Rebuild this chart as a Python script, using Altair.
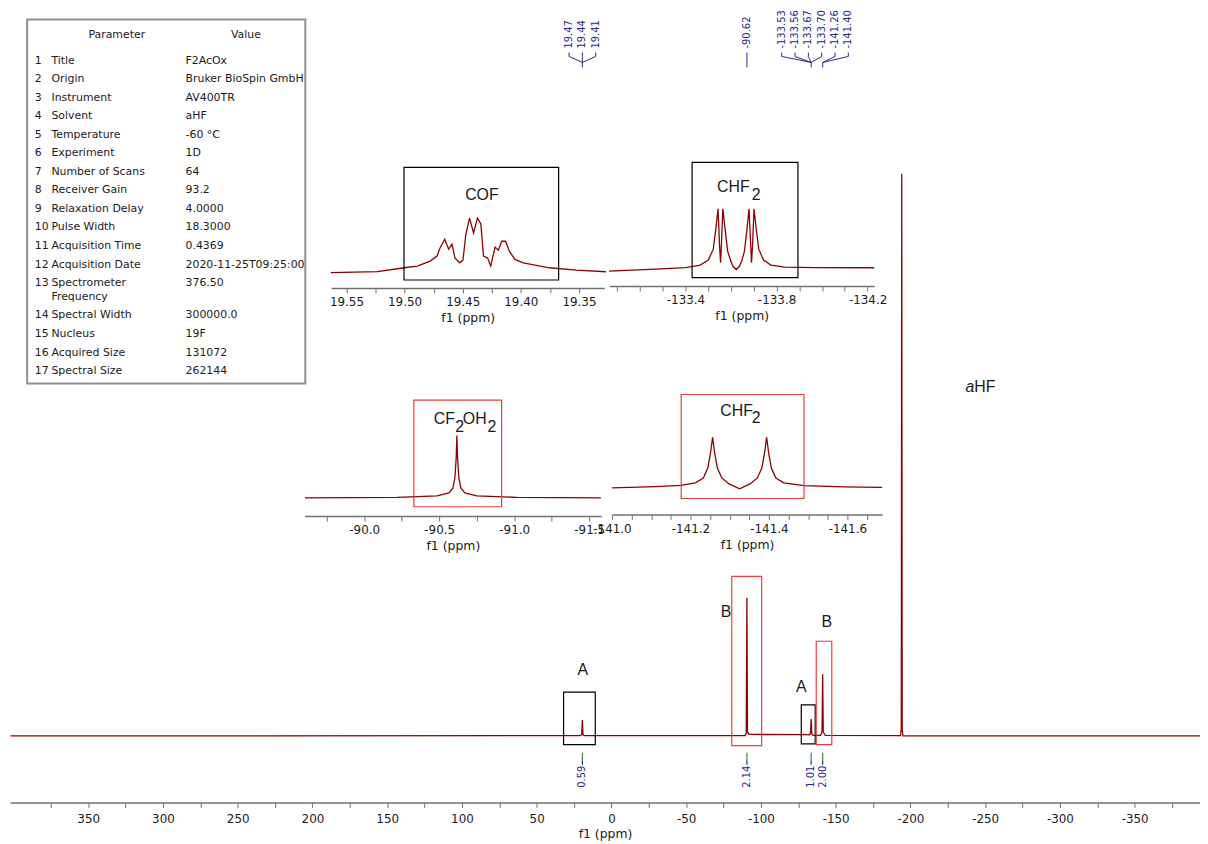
import altair as alt
import pandas as pd

# ---------------- layout helpers ----------------
W, H = 1200, 836          # plot area (page offset 8px)
OX = OY = 8

def px(v):
    return v - OX

def py(v):
    return v - OY

def xsc(dom, p0, p1):
    return alt.Scale(domain=dom, range=[px(p0), px(p1)], nice=False, zero=False)

def ysc(base, top_val=100.0):
    # intensity units are read as pixel heights above each baseline
    return alt.Scale(domain=[0, top_val], range=[py(base), py(base) - top_val], nice=False, zero=False)

SPEC = "#8b0000"
BLUE = "#262690"
GREEN = "#2a8a2a"
RED = "#f03a3a"
AXC = "#707070"
TXT = "#1a1a1a"
SANS = "Liberation Sans"
VERD = "DejaVu Sans"

# ---------------- data ----------------
# main 19F spectrum (ppm, intensity)
main_ppm = [402, 21.0, 19.9, 19.44, 19.0, 17.9, -89.4, -90.2, -90.62, -91.0, -92.0, -130.0, -132.4,
            -133.2, -133.6, -134.0, -135.0, -140.0, -140.9, -141.3, -141.7, -143.0, -193.4, -193.9,
            -194.2, -194.5, -195.0, -394]
main_int = [0, 0.3, 1, 16, 1, 0.3, 0.3, 3, 139, 4, 1.5, 1.2, 1,
            3, 17, 2, 0.5, 0.5, 5, 62, 4, 0.5, 0.3, 8,
            566, 6, 0, 0]

# main boxes
box_ppm1 = [32.0, -80.5, -127.0, -137.0]
box_ppm2 = [10.8, -100.5, -136.3, -147.4]
box_h1 = [44, 160.7, 31.3, 95.3]
box_h2 = [-8.7, -9.7, -8, -8.7]
box_col = ["#000000", RED, "#000000", RED]
box_lab = ["A", "B", "A", "B"]
box_lab_ppm = [19.1, -76.7, -127.0, -144.1]
box_lab_h = [66.3, 124.7, 49.7, 114.7]

# peak picking labels
peak_labels = ["19.47", "19.44", "19.41", "-90.62", "-133.53", "-133.56", "-133.67", "-133.70", "-141.26", "-141.40"]
peak_group = [0, 0, 0, 1, 2, 2, 2, 2, 2, 2]
peak_target = [19.44, 19.44, 19.44, -90.62, -133.6, -133.6, -133.6, -133.6, -141.3, -141.3]

# integrals
integ_text = ["0.59", "2.14", "1.01", "2.00"]
integ_ppm = [19.44, -90.62, -133.6, -141.3]

# inset COF
cof_ppm = [19.5635, 19.5233, 19.5003, 19.4891, 19.4780, 19.4721, 19.4695, 19.4655, 19.4621, 19.4592,
           19.4567, 19.4526, 19.4498, 19.4473, 19.4441, 19.4407, 19.4373, 19.4344, 19.4321, 19.4287,
           19.4259, 19.4222, 19.4193, 19.4165, 19.4131, 19.4099, 19.4051, 19.3979, 19.3755, 19.3524, 19.3268]
cof_int = [-1.5, -0.5, 3.3, 5, 10, 15, 23.3, 32, 22, 27,
           13.3, 8.3, 11, 37, 53.3, 38.3, 53.3, 47.3, 15, 13.3,
           5, 24, 21, 30, 30, 20, 11.7, 8.3, 3.3, 1, -0.7]

# inset CHF2 (-133 ppm)
chfa_ppm = [-133.064, -133.269, -133.400, -133.465, -133.500, -133.522, -133.533, -133.543, -133.549, -133.554,
            -133.558, -133.564, -133.574, -133.585, -133.599, -133.609, -133.623, -133.636, -133.647, -133.659,
            -133.670, -133.679, -133.686, -133.690, -133.695, -133.701, -133.711, -133.722, -133.743, -133.775,
            -133.836, -133.967, -134.229]
chfa_int = [0, 2, 3.5, 6, 11, 22, 42, 62.7, 28, 8.3,
            28, 62.7, 42, 20, 10, 4.5, 1.5, 4.5, 10, 20,
            42, 62.7, 28, 8.3, 28, 62.7, 42, 22, 11, 6,
            4, 3.5, 3.3]

# inset CF2OH2 (-90.62 ppm)
cfo_ppm = [-89.6046, -90.2205, -90.4854, -90.5649, -90.5914, -90.6046, -90.6132, -90.6179, -90.6225,
           -90.6311, -90.6444, -90.6709, -90.7503, -91.0152, -91.5781]
cfo_int = [0, 0.5, 2, 5, 10, 20, 40, 62.6, 40, 20, 10, 5, 2, 0.5, 0]

# inset CHF2 (-141 ppm)
chfb_ppm = [-141.000, -141.111, -141.175, -141.2127, -141.2329, -141.2443, -141.2511, -141.2565, -141.2618,
            -141.2686, -141.2800, -141.2987, -141.3253, -141.3519, -141.3706, -141.3820, -141.3889, -141.3942,
            -141.3995, -141.4063, -141.4177, -141.4380, -141.4886, -141.5924, -141.6886]
chfb_int = [0, 1.3, 2.5, 5, 10, 20, 35, 51, 35,
            20, 10, 4, -1, 4, 10, 20, 35, 51,
            35, 20, 10, 5, 2.3, 1, 0.5]

# parameter table
params = ["Title", "Origin", "Instrument", "Solvent", "Temperature", "Experiment", "Number of Scans",
          "Receiver Gain", "Relaxation Delay", "Pulse Width", "Acquisition Time", "Acquisition Date",
          "Spectrometer\nFrequency", "Spectral Width", "Nucleus", "Acquired Size", "Spectral Size"]
values = ["F2AcOx", "Bruker BioSpin GmbH", "AV400TR", "aHF", "-60 °C", "1D", "64", "93.2", "4.0000",
          "18.3000", "0.4369", "2020-11-25T09:25:00", "376.50", "300000.0", "19F", "131072", "262144"]

# ---------------- scales ----------------
MAIN_X = xsc([402.3, -393.7], 10, 1208)
MAIN_Y = ysc(738, 566)

COF_X = xsc([19.5632, 19.3282], 333.3, 608.3)
COF_Y = ysc(270)
CHFA_X = xsc([-133.065, -134.229], 613.3, 880)
CHFA_Y = ysc(270)
CFO_X = xsc([-89.6033, -91.5788], 306.7, 605)
CFO_Y = ysc(498.3)
CHFB_X = xsc([-141.0, -141.6886], 616, 888)
CHFB_Y = ysc(488.3)


def mk_axis(vals, anchor, step, dec, axis_y, labpad=4, titlepad=4):
    expr = (f"abs((datum.value-({anchor}))/{step} - round((datum.value-({anchor}))/{step})) < 0.01 ? "
            f"(datum.value < 0 ? '-' : '') + format(abs(datum.value), '.{dec}f') : ''")
    return alt.Axis(orient="bottom", offset=axis_y - (OY + H), values=vals, labelExpr=expr,
                    domainColor=AXC, domainWidth=1.5, tickColor=AXC, tickWidth=1, tickSize=5,
                    labelFont=VERD, labelFontSize=12, labelColor=TXT, labelPadding=labpad,
                    labelOverlap=False, labelFlush=False, grid=False,
                    title="f1 (ppm)", titleFont=VERD, titleFontSize=12.5, titleFontWeight="normal",
                    titleColor=TXT, titlePadding=titlepad)


main_ticks = [375 - 25 * i for i in range(31)]
cof_ticks = [round(19.55 - 0.025 * i, 3) for i in range(9)]
chfa_ticks = [round(-133.1 - 0.1 * i, 2) for i in range(12)]
cfo_ticks = [round(-89.75 - 0.25 * i, 2) for i in range(8)]
chfb_ticks = [round(-141.0 - 0.05 * i, 2) for i in range(14)]

layers = []

# ---------------- main spectrum ----------------
main_df = pd.DataFrame({"ppm": main_ppm, "h": main_int})
layers.append(alt.Chart(main_df).mark_line(color=SPEC, strokeWidth=1.3).encode(
    x=alt.X("ppm:Q", scale=MAIN_X, axis=mk_axis(main_ticks, 0, 50, 0, 805, labpad=6, titlepad=3)),
    y=alt.Y("h:Q", scale=MAIN_Y, axis=None)))

box_df = pd.DataFrame({"p1": box_ppm1, "p2": box_ppm2, "h1": box_h1, "h2": box_h2, "c": box_col})
layers.append(alt.Chart(box_df).mark_rect(filled=False, strokeWidth=1.2).encode(
    x=alt.X("p1:Q", scale=MAIN_X, axis=None), x2="p2:Q",
    y=alt.Y("h1:Q", scale=MAIN_Y, axis=None), y2="h2:Q",
    color=alt.Color("c:N", scale=None)))

blab_df = pd.DataFrame({"ppm": box_lab_ppm, "h": box_lab_h, "t": box_lab})
layers.append(alt.Chart(blab_df).mark_text(font=SANS, fontSize=16, color=TXT, align="center",
                                            baseline="middle").encode(
    x=alt.X("ppm:Q", scale=MAIN_X, axis=None), y=alt.Y("h:Q", scale=MAIN_Y, axis=None), text="t:N"))

ahf_a = pd.DataFrame({"ppm": [-242.7], "h": [351.3], "t": ["a"]})
ahf_b = pd.DataFrame({"ppm": [-242.7], "h": [351.3], "t": ["HF"]})
layers.append(alt.Chart(ahf_a).mark_text(font=SANS, fontSize=16, fontStyle="italic", color=TXT,
                                          align="right", baseline="middle").encode(
    x=alt.X("ppm:Q", scale=MAIN_X, axis=None), y=alt.Y("h:Q", scale=MAIN_Y, axis=None), text="t:N"))
layers.append(alt.Chart(ahf_b).mark_text(font=SANS, fontSize=16, color=TXT,
                                          align="left", baseline="middle").encode(
    x=alt.X("ppm:Q", scale=MAIN_X, axis=None), y=alt.Y("h:Q", scale=MAIN_Y, axis=None), text="t:N"))

# peak labels spread in groups
SP = 13.4 / 1.505
disp = []
for g in sorted(set(peak_group)):
    idx = [i for i, gg in enumerate(peak_group) if gg == g]
    centre = sum(float(peak_labels[i]) for i in idx) / len(idx)
    n = len(idx)
    for k, i in enumerate(idx):
        disp.append(centre + SP * ((n - 1) / 2 - k))
pl_df = pd.DataFrame({"ppm": disp, "t": peak_labels, "tgt": peak_target})
pl_df["h"] = 692
layers.append(alt.Chart(pl_df).mark_text(font=VERD, fontSize=10, color=BLUE, angle=270, align="left",
                                          baseline="middle").encode(
    x=alt.X("ppm:Q", scale=MAIN_X, axis=None), y=alt.Y("h:Q", scale=MAIN_Y, axis=None), text="t:N"))

seg_rows = []
for d, t in zip(disp, peak_target):
    seg_rows.append({"a": d, "b": d, "h1": 688, "h2": 684})
    seg_rows.append({"a": d, "b": t, "h1": 684, "h2": 678})
for t in sorted(set(peak_target)):
    seg_rows.append({"a": t, "b": t, "h1": 678, "h2": 673})
seg_df = pd.DataFrame(seg_rows)
layers.append(alt.Chart(seg_df).mark_rule(color=BLUE, strokeWidth=1).encode(
    x=alt.X("a:Q", scale=MAIN_X, axis=None), x2="b:Q",
    y=alt.Y("h1:Q", scale=MAIN_Y, axis=None), y2="h2:Q"))

# integrals
in_df = pd.DataFrame({"ppm": integ_ppm, "t": integ_text})
in_df["g1"], in_df["g2"], in_df["b2"], in_df["ht"] = -17, -25, -29, -30
layers.append(alt.Chart(in_df).mark_rule(color=GREEN, strokeWidth=1.2).encode(
    x=alt.X("ppm:Q", scale=MAIN_X, axis=None), y=alt.Y("g1:Q", scale=MAIN_Y, axis=None), y2="g2:Q"))
layers.append(alt.Chart(in_df).mark_rule(color=BLUE, strokeWidth=1.2).encode(
    x=alt.X("ppm:Q", scale=MAIN_X, axis=None), y=alt.Y("g2:Q", scale=MAIN_Y, axis=None), y2="b2:Q"))
layers.append(alt.Chart(in_df).mark_text(font=VERD, fontSize=10, color=BLUE, angle=270, align="right",
                                          baseline="middle").encode(
    x=alt.X("ppm:Q", scale=MAIN_X, axis=None), y=alt.Y("ht:Q", scale=MAIN_Y, axis=None), text="t:N"))

# ---------------- insets ----------------
def inset(ppm, inten, XS, YS, axis, box, box_color, labels):
    out = []
    df = pd.DataFrame({"ppm": ppm, "h": inten})
    out.append(alt.Chart(df).mark_line(color=SPEC, strokeWidth=1.3).encode(
        x=alt.X("ppm:Q", scale=XS, axis=axis), y=alt.Y("h:Q", scale=YS, axis=None)))
    bdf = pd.DataFrame({"p1": [box[0]], "p2": [box[1]], "h1": [box[2]], "h2": [box[3]]})
    out.append(alt.Chart(bdf).mark_rect(filled=False, color=box_color, strokeWidth=1.2).encode(
        x=alt.X("p1:Q", scale=XS, axis=None), x2="p2:Q",
        y=alt.Y("h1:Q", scale=YS, axis=None), y2="h2:Q"))
    ldf = pd.DataFrame(labels, columns=["ppm", "h", "t"])
    out.append(alt.Chart(ldf).mark_text(font=SANS, fontSize=16, color=TXT, align="left",
                                         baseline="middle").encode(
        x=alt.X("ppm:Q", scale=XS, axis=None), y=alt.Y("h:Q", scale=YS, axis=None), text="t:N"))
    return out

layers += inset(cof_ppm, cof_int, COF_X, COF_Y, mk_axis(cof_ticks, 19.5, 0.05, 2, 287),
                [19.5005, 19.3675, 104.3, -9], "#000000",
                [(19.4479, 76.7, "COF")])
layers += inset(chfa_ppm, chfa_int, CHFA_X, CHFA_Y, mk_axis(chfa_ticks, -133.4, 0.4, 1, 285),
                [-133.429, -133.894, 109.3, -6.7], "#000000",
                [(-133.5383, 85, "CHF"), (-133.6910, 76.7, "2")])
layers += inset(cfo_ppm, cfo_int, CFO_X, CFO_Y, mk_axis(cfo_ticks, -90.0, 0.5, 1, 516.7),
                [-90.331, -90.916, 98.3, -9], RED,
                [(-90.4636, 79, "CF"), (-90.6066, 71.6, "2"), (-90.6576, 79, "OH"), (-90.8212, 71.6, "2")])
layers += inset(chfb_ppm, chfb_int, CHFB_X, CHFB_Y, mk_axis(chfb_ticks, -141.0, 0.2, 1, 515),
                [-141.1765, -141.4894, 94, -10.7], RED,
                [(-141.2759, 77.6, "CHF"), (-141.3562, 70, "2")])

# ---------------- parameter table ----------------
T0X, T0Y, T1X, T1Y = 27.3, 16.7, 307.3, 383.3
TX = alt.Scale(domain=[0, T1X - T0X], range=[px(T0X), px(T1X)], nice=False, zero=False)
TY = alt.Scale(domain=[0, T1Y - T0Y], range=[py(T0Y), py(T1Y)], nice=False, zero=False)

rows = []
yc = 57.3
for i, (p, v) in enumerate(zip(params, values)):
    base = yc + 4 - T0Y
    rows.append({"x": 35 - T0X, "y": base, "t": str(i + 1)})
    rows.append({"x": 51.7 - T0X, "y": base, "t": p})
    rows.append({"x": 186.7 - T0X, "y": base, "t": v})
    yc += 18.65 + 14 * p.count("\n")
tab_df = pd.DataFrame(rows)
hdr_df = pd.DataFrame({"x": [117.5 - T0X, 247.5 - T0X], "y": [31.7 + 4 - T0Y] * 2, "t": ["Parameter", "Value"]})
frame_df = pd.DataFrame({"x1": [0], "x2": [T1X - T0X], "y1": [0], "y2": [T1Y - T0Y]})

layers.append(alt.Chart(frame_df).mark_rect(filled=False, color="#8f8f8f", strokeWidth=2).encode(
    x=alt.X("x1:Q", scale=TX, axis=None), x2="x2:Q", y=alt.Y("y1:Q", scale=TY, axis=None), y2="y2:Q"))
layers.append(alt.Chart(tab_df).mark_text(font=VERD, fontSize=11, color=TXT, align="left",
                                           baseline="alphabetic", lineBreak="\n", lineHeight=14).encode(
    x=alt.X("x:Q", scale=TX, axis=None), y=alt.Y("y:Q", scale=TY, axis=None), text="t:N"))
layers.append(alt.Chart(hdr_df).mark_text(font=VERD, fontSize=11, color=TXT, align="center",
                                           baseline="alphabetic").encode(
    x=alt.X("x:Q", scale=TX, axis=None), y=alt.Y("y:Q", scale=TY, axis=None), text="t:N"))

chart = alt.layer(*layers).resolve_scale(x="independent", y="independent").properties(
    width=W, height=H, padding=0, background="white",
    autosize=alt.AutoSizeParams(type="none"),
).configure_view(stroke=None)

chart.save("out.html", embed_options={"renderer": "svg", "actions": False})
